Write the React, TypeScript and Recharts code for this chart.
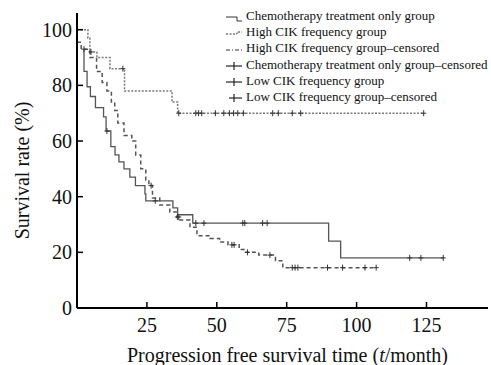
import { ComposedChart, Line, Scatter, XAxis, YAxis } from "recharts";

// Kaplan-Meier curves: time (months) and survival rate (%) after each step
const chemoTimes = [2.5, 2.5, 3.6, 4.8, 6.6, 9.5, 10.4, 12.1, 13.6, 15, 16.8, 18.9, 20.9, 24.3, 24.6, 34.3, 36, 41.4, 90, 94.3, 131];
const chemoRates = [93, 85, 79.5, 76, 72, 68.7, 63.6, 58, 55, 52.5, 50, 47, 44, 41, 38.5, 36, 33.5, 30.5, 24, 18, 18];
const chemoCensored = [2.5, 10.7, 28, 42.5, 45.4, 59.3, 60, 66.4, 68, 119, 123, 131];

const highTimes = [0, 3.9, 4.6, 7.1, 11.8, 17, 34, 36, 124];
const highRates = [100, 97, 92, 90, 86, 78, 74, 70, 70];
const highCensored = [5, 16.4, 36.4, 42.5, 43.5, 44.6, 49.5, 52.5, 54.5, 56, 57.5, 59.5, 70, 72, 77, 80, 124];

const lowTimes = [0, 1.5, 4.6, 7, 9, 10.7, 12.3, 13.5, 14.6, 16.8, 19.6, 21, 22.8, 24.6, 25.7, 27, 29.6, 33.2, 35.7, 36.8, 40.4, 42.9, 47.5, 51, 54, 58, 60, 65, 71, 73.6, 107];
const lowRates = [95.5, 93, 90, 85, 81, 78, 74, 71, 66.5, 62, 60, 55, 50, 46, 44, 39.5, 37, 34.5, 32.7, 31.6, 29, 26, 25, 23.7, 22.7, 21, 20, 19, 17, 14.5, 14.5];
const lowCensored = [26.5, 35.9, 36.4, 55.4, 56.2, 61, 69, 77, 78, 79, 89.6, 95, 103, 107];

const xTicks = [25, 50, 75, 100, 125];
const yTicks = [0, 20, 40, 60, 80, 100];

const legendItems = [
  "Chemotherapy treatment only group",
  "High CIK frequency group",
  "High CIK frequency group\u2013censored",
  "Chemotherapy treatment only group\u2013censored",
  "Low CIK frequency group",
  "Low CIK frequency group\u2013censored",
];

const FONT = '"Liberation Serif", "Times New Roman", serif';

const toCurve = (times: number[], rates: number[]) => times.map((t, i) => ({ t, v: rates[i] }));

function survivalAt(times: number[], rates: number[], t: number) {
  let v = rates[0];
  times.forEach((time, i) => {
    if (time < t) v = rates[i];
  });
  return v;
}

const toMarks = (times: number[], rates: number[], censored: number[]) =>
  censored.map((t) => ({ t, v: survivalAt(times, rates, t) }));

const chemoData = toCurve(chemoTimes, chemoRates);
const highData = toCurve(highTimes, highRates);
const lowData = toCurve(lowTimes, lowRates);

const chemoMarks = toMarks(chemoTimes, chemoRates, chemoCensored);
const highMarks = toMarks(highTimes, highRates, highCensored);
const lowMarks = toMarks(lowTimes, lowRates, lowCensored);

const Plus = (props: any) => {
  const { cx, cy } = props;
  return (
    <g stroke="#333" strokeWidth={1}>
      <line x1={cx - 2.5} x2={cx + 2.5} y1={cy} y2={cy} />
      <line x1={cx} x2={cx} y1={cy - 3} y2={cy + 3} />
    </g>
  );
};

const XTick = (props: any) => {
  const { x, y, payload } = props;
  return (
    <g>
      <line x1={x} x2={x} y1={y} y2={y - 6} stroke="#000" strokeWidth={1.5} />
      <text x={x} y={y + 24} textAnchor="middle" fontSize={20} fontFamily={FONT} fill="#111">
        {payload.value}
      </text>
    </g>
  );
};

const YTick = (props: any) => {
  const { x, y, payload } = props;
  return (
    <g>
      <line x1={x} x2={x + 6} y1={y} y2={y} stroke="#000" strokeWidth={1.5} />
      <text x={x - 5} y={y + 7} textAnchor="end" fontSize={20} fontFamily={FONT} fill="#111">
        {payload.value}
      </text>
    </g>
  );
};

const YLabel = (props: any) => {
  const { viewBox } = props;
  const cx = viewBox.x + 22;
  const cy = viewBox.y + viewBox.height / 2 + 10;
  return (
    <text x={cx} y={cy} transform={`rotate(-90, ${cx}, ${cy})`} textAnchor="middle" dominantBaseline="central" fontSize={20} fontFamily={FONT} fill="#111">
      Survival rate (%)
    </text>
  );
};

const XLabel = (props: any) => {
  const { viewBox } = props;
  const cx = viewBox.x + viewBox.width / 2 + 5;
  return (
    <text x={cx} y={viewBox.y + 54} textAnchor="middle" fontSize={20} fontFamily={FONT} fill="#111">
      Progression free survival time (<tspan fontStyle="italic">t</tspan>/month)
    </text>
  );
};

function LegendSymbol({ index }: { index: number }) {
  if (index === 0) {
    return <path d="M1 9 H12 V13 H17" fill="none" stroke="#333" strokeWidth={1} />;
  }
  if (index === 1) {
    return <path d="M1 10 H12 V8 H17" fill="none" stroke="#333" strokeWidth={1} strokeDasharray="2 1.5" />;
  }
  if (index === 2) {
    return <path d="M1 9 H17" fill="none" stroke="#333" strokeWidth={1} strokeDasharray="4 2 1 2" />;
  }
  return (
    <g stroke="#222" strokeWidth={1.2}>
      <line x1={index === 5 ? 4 : 1} x2={17} y1={9} y2={9} />
      <line x1={9} x2={9} y1={5} y2={13} />
    </g>
  );
}

export default function App() {
  return (
    <div style={{ position: "fixed", left: 0, top: 0, width: 491, height: 365, background: "#fff" }}>
      <ComposedChart width={491} height={365} margin={{ top: 13, right: 3, left: 0, bottom: 0 }}>
        <XAxis
          type="number"
          dataKey="t"
          domain={[0, 147]}
          ticks={xTicks}
          allowDataOverflow
          height={57}
          tickSize={0}
          tickMargin={0}
          tick={XTick}
          axisLine={{ stroke: "#000", strokeWidth: 2 }}
          label={<XLabel />}
        />
        <YAxis
          type="number"
          domain={[0, 106]}
          ticks={yTicks}
          allowDataOverflow
          width={77}
          tickSize={0}
          tickMargin={0}
          tick={YTick}
          axisLine={{ stroke: "#000", strokeWidth: 2 }}
          label={<YLabel />}
        />
        <Line data={highData} dataKey="v" type="stepAfter" stroke="#7a7a7a" strokeWidth={1.5} strokeDasharray="2 1.5" dot={false} isAnimationActive={false} />
        <Line data={lowData} dataKey="v" type="stepAfter" stroke="#555" strokeWidth={1.5} strokeDasharray="4 3" dot={false} isAnimationActive={false} />
        <Line data={chemoData} dataKey="v" type="stepAfter" stroke="#555" strokeWidth={1.3} dot={false} isAnimationActive={false} />
        <Scatter data={highMarks} dataKey="v" shape={Plus} isAnimationActive={false} />
        <Scatter data={lowMarks} dataKey="v" shape={Plus} isAnimationActive={false} />
        <Scatter data={chemoMarks} dataKey="v" shape={Plus} isAnimationActive={false} />
      </ComposedChart>
      <div style={{ position: "absolute", left: 225, top: 8, fontFamily: FONT, fontSize: 13, color: "#111", lineHeight: "16.2px" }}>
        {legendItems.map((item, i) => (
          <div key={item} style={{ display: "flex", alignItems: "center", whiteSpace: "nowrap" }}>
            <svg width={19} height={16} style={{ marginRight: 2 }}>
              <LegendSymbol index={i} />
            </svg>
            <span>{item}</span>
          </div>
        ))}
      </div>
    </div>
  );
}
